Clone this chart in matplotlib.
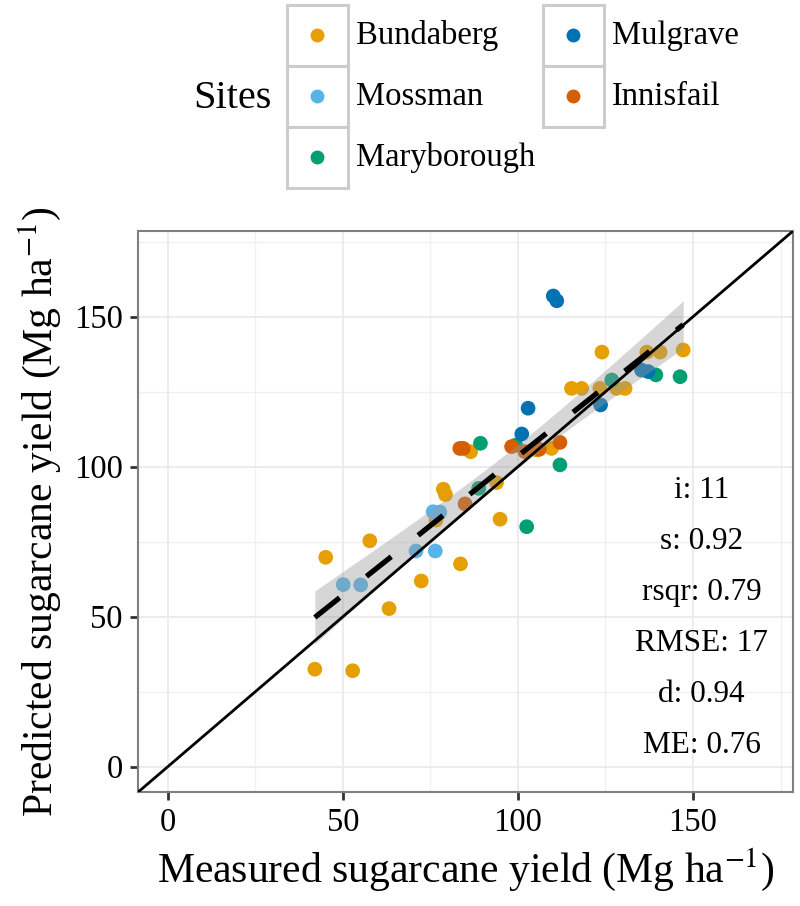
import matplotlib
matplotlib.use('Agg')
import matplotlib.pyplot as plt
from matplotlib.patches import Rectangle
import numpy as np

plt.rcParams['font.family'] = ['Liberation Serif', 'DejaVu Serif']
plt.rcParams['mathtext.fontset'] = 'stix'

# ── DATA ──────────────────────────────────────────────
sites  = ['Bundaberg', 'Mossman', 'Maryborough', 'Mulgrave', 'Innisfail']
colors = ['#E69F00', '#56B4E9', '#009E73', '#0072B2', '#D55E00']

bund_x = [42.0, 52.8, 45.1, 57.7, 63.2, 72.4, 83.6, 78.7, 79.3, 76.6, 94.9, 93.9,
          86.5, 105.3, 109.6, 115.3, 118.2, 123.4, 128.2, 130.6, 124.0, 136.8, 140.6, 147.2]
bund_y = [32.5, 32.0, 69.8, 75.3, 52.7, 61.9, 67.6, 92.5, 90.7, 82.2, 82.5, 94.7,
          105.0, 105.6, 106.1, 126.1, 126.1, 126.1, 126.1, 126.1, 138.2, 138.2, 138.2, 138.9]
moss_x = [50.1, 55.1, 70.9, 76.4, 75.8, 77.7]
moss_y = [60.7, 60.6, 71.9, 71.9, 85.0, 84.9]
mary_x = [88.8, 89.3, 99.4, 102.5, 112.0, 126.8, 139.4, 146.3]
mary_y = [92.8, 107.8, 107.2, 80.0, 100.6, 128.9, 130.6, 130.0]
mulg_x = [110.1, 111.1, 102.9, 101.1, 123.6, 135.3, 137.2]
mulg_y = [156.9, 155.3, 119.5, 110.9, 120.6, 132.2, 131.7]
inni_x = [83.4, 84.4, 84.9, 98.2, 102.0, 106.1, 112.0]
inni_y = [106.1, 106.1, 87.6, 106.7, 105.0, 105.8, 108.1]

site_x = [bund_x, moss_x, mary_x, mulg_x, inni_x]
site_y = [bund_y, moss_y, mary_y, mulg_y, inni_y]

stats = ['i: 11', 's: 0.92', 'rsqr: 0.79', 'RMSE: 17', 'd: 0.94', 'ME: 0.76']
stat_y = [92, 75, 58, 41, 24, 7]
stat_x = 152.5

ticks = [0, 50, 100, 150]

# ── FIGURE ────────────────────────────────────────────
fig = plt.figure(figsize=(8, 9.06), dpi=100)
ax = fig.add_axes([138/800, (906-792.2)/906, (792.8-138)/800, (792.2-231.2)/906])

# grid (major + minor, theme_bw style)
for v in [25, 75, 125, 175]:
    ax.axvline(v, color='#F0F0F0', lw=1.0, zorder=0)
    ax.axhline(v, color='#F0F0F0', lw=1.0, zorder=0)
for v in ticks:
    ax.axvline(v, color='#EBEBEB', lw=1.3, zorder=0)
    ax.axhline(v, color='#EBEBEB', lw=1.3, zorder=0)

# points
for xs, ys, c in zip(site_x, site_y, colors):
    ax.scatter(xs, ys, s=112, color=c, edgecolors='none', zorder=2)

# linear fit with 95% CI
all_x = np.concatenate([np.array(v) for v in site_x])
all_y = np.concatenate([np.array(v) for v in site_y])
n = len(all_x)
slope, icpt = np.polyfit(all_x, all_y, 1)
resid = all_y - (icpt + slope * all_x)
sigma = np.sqrt(np.sum(resid**2) / (n - 2))
xg = np.linspace(all_x.min(), all_x.max(), 80)
yg = icpt + slope * xg
se = sigma * np.sqrt(1/n + (xg - all_x.mean())**2 / np.sum((all_x - all_x.mean())**2))
t975 = 2.01
ax.fill_between(xg, yg - t975*se, yg + t975*se, color='#999999', alpha=0.4,
                linewidth=0, zorder=3)
ax.plot(xg, yg, color='black', lw=3.8, linestyle=(0, (6, 6.5)), zorder=4)

# 1:1 line
ax.axline((0, 0), slope=1, color='black', lw=2.0, zorder=5)

# statistics
for s_txt, sy in zip(stats, stat_y):
    ax.text(stat_x, sy, s_txt, ha='center', va='center', fontsize=22.5, zorder=6)

ax.set_xlim(-8.5, 178.5)
ax.set_ylim(-8.5, 178.5)
ax.set_xticks(ticks)
ax.set_yticks(ticks)
ax.tick_params(length=6, width=2, color='#333333', labelsize=23.5, pad=5)
for sp in ax.spines.values():
    sp.set_color('#7F7F7F')
    sp.set_linewidth(1.5)

ax.set_xlabel(r'Measured sugarcane yield (Mg ha$^{-1}$)', fontsize=30, labelpad=6)
ax.set_ylabel(r'Predicted sugarcane yield (Mg ha$^{-1}$)', fontsize=30, labelpad=8)

# ── LEGEND (top, boxed keys) ─────────────────────────
lax = fig.add_axes([0, 0, 1, 1])
lax.set_xlim(0, 800)
lax.set_ylim(906, 0)
lax.axis('off')

lax.text(193, 98, 'Sites', ha='left', va='center', fontsize=29)
col_x = [287, 543]
row_y = [5, 66, 127]
key_w, key_h = 61, 61
for i, (name, c) in enumerate(zip(sites, colors)):
    col, row = divmod(i, 3)
    x0, y0 = col_x[col], row_y[row]
    lax.add_patch(Rectangle((x0, y0), key_w, key_h, facecolor='white',
                            edgecolor='#CCCCCC', linewidth=2.2))
    lax.scatter([x0 + key_w/2], [y0 + key_h/2], s=100, color=c, edgecolors='none')
    lax.text(x0 + key_w + 8, y0 + key_h/2, name, ha='left', va='center', fontsize=23.5)

fig.savefig('out.png', dpi=100)
